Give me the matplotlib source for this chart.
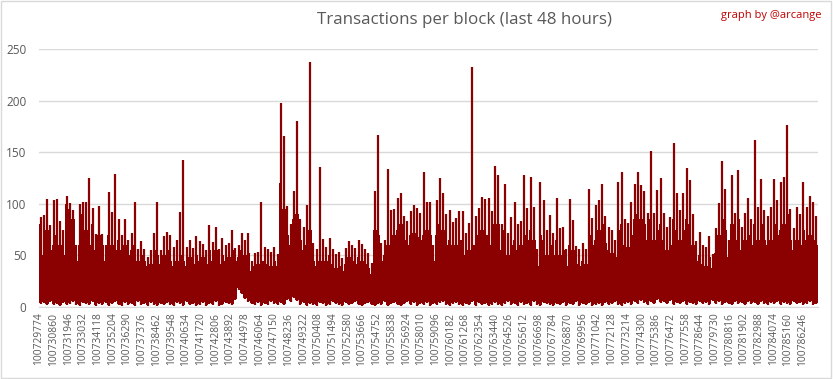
import numpy as np
import matplotlib
matplotlib.use("Agg")
import matplotlib.pyplot as plt
from matplotlib.patches import Rectangle

# blocks: 48 hours, grouped in bins of 240 blocks
first_block = 100729774
bin_size = 240
label_step = 1086
n_labels = 53

# max transactions per bin (240 bins)
hi = [
    87, 89, 105, 79, 104, 105, 83, 75, 108, 101, 94, 60, 100, 102, 102, 125, 96, 71, 98, 71,
    60, 111, 92, 129, 85, 70, 85, 65, 72, 102, 56, 64, 56, 48, 55, 72, 102, 55, 69, 73,
    70, 58, 65, 92, 142, 58, 65, 57, 69, 64, 61, 55, 79, 63, 78, 56, 67, 60, 62, 75,
    57, 60, 72, 65, 72, 45, 52, 53, 102, 58, 56, 53, 58, 51, 198, 166, 98, 80, 112, 180,
    85, 78, 99, 237, 62, 56, 136, 66, 58, 67, 56, 51, 53, 47, 57, 64, 60, 57, 65, 61,
    56, 52, 43, 112, 167, 62, 65, 134, 94, 95, 106, 110, 88, 83, 93, 99, 96, 91, 131, 102,
    102, 60, 104, 125, 110, 90, 94, 82, 86, 93, 93, 72, 81, 233, 88, 96, 107, 105, 106, 93,
    137, 128, 80, 119, 72, 87, 102, 80, 83, 128, 96, 126, 97, 56, 121, 104, 75, 89, 72, 106,
    77, 78, 56, 105, 84, 59, 56, 62, 56, 114, 86, 99, 104, 119, 88, 78, 75, 65, 121, 131,
    85, 81, 102, 119, 131, 118, 112, 91, 151, 91, 113, 125, 91, 78, 87, 159, 110, 94, 110, 135,
    123, 90, 64, 73, 60, 58, 69, 51, 77, 101, 141, 114, 65, 128, 91, 133, 78, 91, 106, 85,
    162, 97, 124, 94, 88, 97, 124, 104, 121, 126, 176, 95, 77, 97, 90, 121, 97, 108, 102, 88,
]

# top of the dense part per bin
body = [
    80, 50, 75, 55, 60, 70, 60, 50, 100, 95, 85, 45, 60, 90, 75, 60, 80, 55, 70, 60,
    45, 70, 60, 55, 65, 55, 60, 50, 55, 60, 45, 50, 45, 40, 42, 55, 50, 42, 50, 55,
    45, 40, 45, 50, 45, 40, 48, 42, 50, 45, 48, 42, 55, 45, 55, 42, 50, 45, 48, 55,
    45, 48, 55, 50, 52, 35, 40, 42, 45, 45, 42, 40, 45, 40, 120, 95, 70, 60, 85, 90,
    65, 55, 60, 75, 45, 40, 45, 45, 45, 50, 42, 38, 40, 35, 42, 48, 45, 42, 48, 45,
    42, 38, 32, 75, 70, 45, 50, 60, 70, 70, 75, 80, 65, 60, 70, 72, 68, 65, 70, 75,
    70, 45, 70, 80, 75, 60, 65, 60, 60, 65, 65, 50, 55, 60, 60, 70, 75, 70, 70, 60,
    80, 80, 55, 75, 50, 60, 65, 55, 60, 70, 65, 75, 65, 40, 70, 65, 50, 60, 50, 65,
    50, 55, 40, 60, 55, 42, 40, 45, 42, 70, 60, 65, 75, 80, 62, 55, 52, 48, 75, 80,
    60, 58, 70, 85, 90, 85, 80, 65, 85, 65, 75, 80, 65, 55, 60, 85, 75, 65, 75, 85,
    80, 60, 45, 50, 42, 40, 48, 38, 52, 70, 85, 75, 48, 80, 65, 85, 55, 65, 70, 60,
    80, 65, 80, 65, 60, 65, 80, 70, 75, 80, 90, 65, 55, 65, 60, 75, 65, 70, 65, 60,
]

# lowest value per bin
lo = [
    4, 5, 3, 6, 3, 4, 2, 5, 3, 4, 6, 3, 2, 5, 4, 3, 6, 2, 4, 3,
    5, 2, 4, 6, 3, 2, 5, 3, 4, 2, 6, 3, 4, 2, 5, 3, 2, 4, 3, 5,
    3, 2, 5, 4, 2, 6, 3, 4, 2, 3, 5, 2, 4, 3, 6, 2, 3, 5, 4, 3,
    8, 18, 14, 9, 6, 4, 3, 5, 2, 4, 3, 6, 4, 3, 5, 3, 8, 6, 10, 7,
    3, 5, 2, 4, 3, 2, 5, 4, 2, 3, 6, 4, 3, 2, 5, 3, 4, 6, 3, 2,
    4, 5, 3, 2, 4, 3, 6, 2, 4, 5, 3, 2, 4, 6, 3, 5, 2, 4, 3, 5,
    2, 4, 3, 5, 6, 3, 2, 4, 5, 3, 2, 4, 3, 6, 2, 5, 3, 4, 2, 3,
    5, 3, 2, 4, 6, 3, 4, 2, 5, 3, 4, 2, 6, 3, 2, 5, 4, 3, 2, 4,
    3, 5, 2, 4, 3, 6, 2, 4, 3, 5, 2, 3, 4, 2, 5, 3, 4, 6, 3, 2,
    4, 5, 3, 6, 4, 7, 5, 3, 6, 4, 8, 5, 6, 4, 7, 3, 5, 4, 6, 3,
    5, 4, 3, 6, 4, 5, 3, 7, 4, 6, 3, 5, 4, 3, 6, 4, 5, 3, 6, 4,
    5, 3, 6, 4, 3, 5, 4, 6, 3, 5, 4, 3, 6, 4, 5, 3, 4, 6, 3, 4,
]

dark_red = "#8b0000"
grey_text = "#595959"
grid_col = "#d9d9d9"

hi_arr = np.array(hi, dtype=float)
body_arr = np.minimum(np.array(body, dtype=float), hi_arr)
lo_arr = np.array(lo, dtype=float)

edges = first_block + np.arange(len(hi) + 1) * bin_size
centers = edges[:-1] + bin_size / 2

fig = plt.figure(figsize=(8.33, 3.79), dpi=100)
ax = fig.add_axes([39 / 833, 72 / 379, 779 / 833, 258 / 379])

ax.fill_between(edges, np.append(lo_arr, lo_arr[-1]), np.append(body_arr, body_arr[-1]),
                step="post", color=dark_red, linewidth=0)
ax.vlines(centers, lo_arr - 1.5, hi_arr, color=dark_red, linewidth=1.6)

ax.set_xlim(edges[0], edges[-1])
ax.set_ylim(0, 250)
ax.set_yticks(range(0, 251, 50))
ax.grid(axis="y", color=grid_col, linewidth=1)
ax.set_axisbelow(True)

tick_blocks = [first_block + label_step * i for i in range(n_labels)]
ax.set_xticks(tick_blocks)
ax.set_xticklabels([str(b) for b in tick_blocks], rotation=90, fontsize=7.4,
                   color=grey_text, family="Open Sans")
for lab in ax.get_yticklabels():
    lab.set_family("Open Sans")
ax.tick_params(axis="y", length=0, labelsize=8.5, labelcolor=grey_text, pad=9)
ax.tick_params(axis="x", length=0, pad=4)

for s in ["top", "right", "left"]:
    ax.spines[s].set_visible(False)
ax.spines["bottom"].set_color(grid_col)

fig.text(0.558, 0.947, "Transactions per block (last 48 hours)", ha="center", va="center",
         fontsize=12.2, color=grey_text, family="Open Sans")
fig.text(0.986, 0.958, "graph by @arcange", ha="right", va="center",
         fontsize=8, color="#c00000", family="Open Sans")

fig.patches.append(Rectangle((0.001, 0.002), 0.997, 0.995, transform=fig.transFigure,
                             fill=False, edgecolor=grid_col, linewidth=1))

fig.savefig("out.png", dpi=100)
